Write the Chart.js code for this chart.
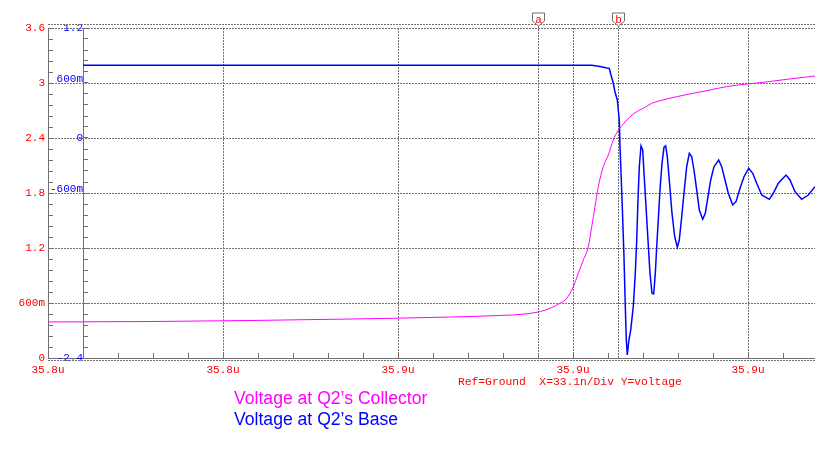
<!DOCTYPE html>
<html>
<head>
<meta charset="utf-8">
<script src="https://cdn.jsdelivr.net/npm/chart.js@4/dist/chart.umd.min.js"></script>
<style>
    html, body { margin: 0; padding: 0; background: #fff; }
    .wrap { position: relative; width: 815px; height: 455px; }
    .caption { position: absolute; left: 458px; top: 376px; font: 11.3px "Liberation Mono", monospace; color: #ff0000; white-space: pre; }
    .legend { position: absolute; left: 234px; top: 388px; font: 17.6px "Liberation Sans", Arial, sans-serif; line-height: 21px; }
</style>
</head>
<body>
<div class="wrap">
    <canvas id="scopeChart" width="815" height="455"></canvas>
    <div class="caption">Ref=Ground  X=33.1n/Div Y=voltage</div>
    <div class="legend">
        <div style="color:#ff00ff">Voltage at Q2’s Collector</div>
        <div style="color:#0000ff">Voltage at Q2’s Base</div>
    </div>
</div>
<script>
// x values are ns from the left edge of the trace window
const xDiv = 33.1;
const xMax = 145.07;
const xTickLabels = ['35.8u', '35.8u', '35.9u', '35.9u', '35.9u'];
const leftTickLabels = ['0', '600m', '1.2', '1.8', '2.4', '3', '3.6'];
const rightTickLabels = ['-2.4', '', '', '-600m', '0', '600m', '1.2'];

// Voltage at Q2's Collector (left, red scale)
const collectorT = [0, 19.3, 38.2, 57.1, 76.0, 85.5, 90.2, 93.1, 95.3, 96.84, 98.11, 99.36, 100.30, 101.25, 102.19,
    102.84, 103.46, 104.08, 105.03, 105.98, 106.92, 107.87, 108.81, 110.08, 111.35, 112.59, 114.18, 115.75, 118.91,
    122.05, 125.21, 128.37, 132.15, 134.67, 139.72, 145.07];
const collectorV = [0.393, 0.398, 0.409, 0.425, 0.447, 0.464, 0.48, 0.507, 0.551, 0.597, 0.651, 0.778, 0.924, 1.069,
    1.214, 1.432, 1.651, 1.869, 2.087, 2.215, 2.378, 2.487, 2.553, 2.632, 2.687, 2.724, 2.778, 2.807, 2.851, 2.888,
    2.924, 2.960, 2.989, 3.003, 3.040, 3.076];

// Voltage at Q2's Base (blue scale)
const baseT = [6.62, 102.84, 104.41, 105.73, 106.16, 106.48, 106.92, 107.24, 107.68, 107.90, 108.05, 108.19, 108.38,
    108.62, 108.94, 109.19, 109.38, 109.57, 109.83, 110.21, 110.70, 111.08, 111.35, 111.59, 111.84, 112.16, 112.48,
    112.73, 113.11, 113.48, 113.86, 114.24, 114.56, 114.87, 115.13, 115.43, 115.75, 116.13, 116.51, 116.83, 117.13,
    117.51, 118.02, 118.53, 119.03, 119.40, 119.86, 120.29, 120.80, 121.30, 121.75, 122.18, 122.69, 123.19, 123.83,
    124.32, 124.83, 125.34, 125.97, 126.85, 127.42, 128.05, 128.67, 129.50, 130.13, 130.89, 131.64, 132.53, 133.29,
    134.04, 134.99, 136.43, 137.18, 138.13, 139.59, 140.34, 141.29, 142.55, 143.80, 145.07];
const baseV = [0.793, 0.793, 0.780, 0.764, 0.760, 0.687, 0.597, 0.502, 0.415, 0.284, 0.196, -0.095, -0.382,
    -0.749, -1.294, -1.840, -2.204, -2.367, -2.222, -2.095, -1.840, -1.476, -1.113, -0.676, -0.313, -0.087, -0.131,
    -0.385, -0.749, -1.113, -1.476, -1.694, -1.702, -1.476, -1.186, -0.895, -0.567, -0.276, -0.101, -0.087, -0.204,
    -0.458, -0.821, -1.077, -1.192, -1.113, -0.859, -0.603, -0.313, -0.167, -0.204, -0.349, -0.567, -0.785, -0.887,
    -0.821, -0.640, -0.458, -0.313, -0.240, -0.313, -0.458, -0.603, -0.731, -0.695, -0.549, -0.422, -0.331, -0.385,
    -0.494, -0.622, -0.669, -0.603, -0.494, -0.404, -0.458, -0.586, -0.669, -0.622, -0.531];

// cursors a and b
const markerT = [92.7, 107.8];
const markerNames = ['a', 'b'];

const gridGray = '#707070';
const monoFont = { family: 'Liberation Mono', size: 11 };

function pairs(xs, ys) {
    return xs.map((x, i) => ({ x: x, y: ys[i] }));
}

// five minor ticks per division, labels/grid only on the majors
function minorTicks(min, step, count) {
    const out = [];
    for (let i = 0; i < count; i++) out.push({ value: min + i * step });
    return out;
}
const majorColor = (ctx) => (ctx.index % 5 === 0 ? gridGray : 'rgba(0,0,0,0)');

const cursorPlugin = {
    id: 'cursors',
    beforeDatasetsDraw(chart) {
        const { ctx, chartArea, scales } = chart;
        ctx.save();
        ctx.strokeStyle = gridGray;
        ctx.lineWidth = 1;
        ctx.setLineDash([2, 1]);
        // cursor lines
        markerT.forEach((t) => {
            const x = Math.round(scales.x.getPixelForValue(t)) + 0.5;
            ctx.beginPath();
            ctx.moveTo(x, chartArea.top - 2);
            ctx.lineTo(x, chartArea.bottom);
            ctx.stroke();
        });
        // second frame line just outside top and bottom
        ctx.beginPath();
        ctx.moveTo(chartArea.left, chartArea.top - 3.5);
        ctx.lineTo(chartArea.right, chartArea.top - 3.5);
        ctx.moveTo(chartArea.left, chartArea.bottom + 2.5);
        ctx.lineTo(chartArea.right, chartArea.bottom + 2.5);
        ctx.stroke();
        ctx.restore();
    },
    afterDraw(chart) {
        const { ctx, chartArea, scales } = chart;
        ctx.save();
        markerT.forEach((t, i) => {
            const x = Math.round(scales.x.getPixelForValue(t)) + 0.5;
            const top = chartArea.top - 15;
            ctx.beginPath();
            ctx.moveTo(x - 6, top);
            ctx.lineTo(x + 6, top);
            ctx.lineTo(x + 6, top + 8);
            ctx.lineTo(x, top + 13);
            ctx.lineTo(x - 6, top + 8);
            ctx.closePath();
            ctx.fillStyle = '#fff';
            ctx.fill();
            ctx.strokeStyle = gridGray;
            ctx.stroke();
            ctx.fillStyle = '#ff0000';
            ctx.font = '11px "Liberation Mono"';
            ctx.textAlign = 'center';
            ctx.textBaseline = 'middle';
            ctx.fillText(markerNames[i], x, top + 7);
        });
        ctx.restore();
    }
};

const ctx = document.getElementById('scopeChart').getContext('2d');
const scopeChart = new Chart(ctx, {
    type: 'line',
    data: {
        datasets: [{
            label: 'Voltage at Q2’s Collector',
            data: pairs(collectorT, collectorV),
            yAxisID: 'y',
            borderColor: '#ff00ff',
            borderWidth: 1,
            pointRadius: 0,
            cubicInterpolationMode: 'monotone',
            fill: false
        }, {
            label: 'Voltage at Q2’s Base',
            data: pairs(baseT, baseV),
            yAxisID: 'y2',
            borderColor: '#0000ff',
            borderWidth: 1.5,
            pointRadius: 0,
            tension: 0,
            fill: false
        }]
    },
    options: {
        responsive: false,
        animation: false,
        layout: {
            padding: { top: 28, left: 0, right: 0, bottom: 77 }
        },
        plugins: {
            legend: { display: false },
            tooltip: { enabled: false }
        },
        scales: {
            x: {
                type: 'linear',
                position: 'bottom',
                min: 0,
                max: xMax,
                afterBuildTicks: (scale) => {
                    scale.ticks = minorTicks(0, xDiv / 5, Math.floor(xMax / (xDiv / 5)) + 1);
                },
                afterFit: (scale) => { scale.height = 20; },
                ticks: {
                    autoSkip: false,
                    maxRotation: 0,
                    padding: 10,
                    color: '#ff0000',
                    font: monoFont,
                    callback: (value, index) => (index % 5 === 0 ? xTickLabels[index / 5] : '')
                },
                grid: {
                    color: majorColor,
                    tickColor: gridGray,
                    tickLength: -5
                },
                border: { color: gridGray, dash: [2, 1] }
            },
            y: {
                position: 'left',
                min: 0,
                max: 3.6,
                afterBuildTicks: (scale) => { scale.ticks = minorTicks(0, 0.12, 31); },
                afterFit: (scale) => { scale.width = 48; },
                ticks: {
                    autoSkip: false,
                    padding: 8,
                    color: '#ff0000',
                    font: monoFont,
                    callback: (value, index) => (index % 5 === 0 ? leftTickLabels[index / 5] : '')
                },
                grid: {
                    color: majorColor,
                    tickColor: gridGray,
                    tickLength: -5
                },
                border: { color: gridGray, dash: [2, 1] }
            },
            y2: {
                position: { x: xDiv / 5 },
                min: -2.4,
                max: 1.2,
                afterBuildTicks: (scale) => { scale.ticks = minorTicks(-2.4, 0.12, 31); },
                ticks: {
                    autoSkip: false,
                    padding: 10,
                    color: '#0000ff',
                    font: { family: 'Liberation Mono', size: 11, lineHeight: 0.8 },
                    callback: (value, index) => {
                        if (index % 5 !== 0) return '';
                        const label = rightTickLabels[index / 5];
                        // the "m" labels sit just above their grid line
                        return label.endsWith('m') ? [label, ''] : label;
                    }
                },
                grid: {
                    drawOnChartArea: false,
                    tickColor: gridGray,
                    tickLength: -5
                },
                border: { color: gridGray }
            }
        }
    },
    plugins: [cursorPlugin]
});
</script>
</body>
</html>
